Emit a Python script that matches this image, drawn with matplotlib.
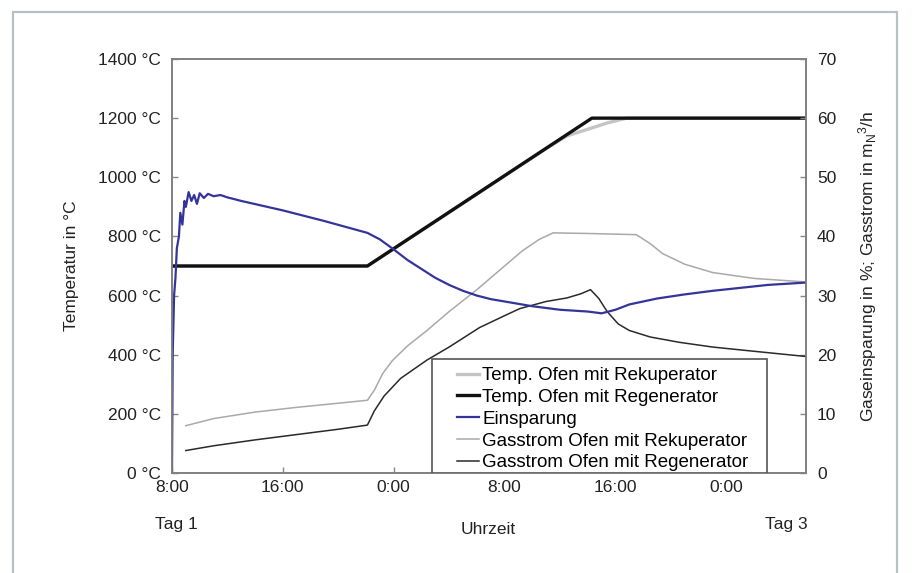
import matplotlib
matplotlib.use("Agg")
import matplotlib.pyplot as plt
from matplotlib.patches import Rectangle

plt.rcParams['font.family'] = ['Liberation Sans', 'DejaVu Sans']
plt.rcParams['mathtext.fontset'] = 'custom'
plt.rcParams['mathtext.rm'] = 'Liberation Sans'
plt.rcParams['mathtext.it'] = 'Liberation Sans'

# hours after 8:00 on day 1
tick_hours = [0, 8, 16, 24, 32, 40]
tick_labels = ['8:00', '16:00', '0:00', '8:00', '16:00', '0:00']
x_end = 45.75

# furnace temperatures (°C)
t_regen = [0, 14.1, 30.3, x_end]
temp_regen = [700, 700, 1200, 1200]

t_rekup = [0, 14.1, 27.0, 28.5, 30.3, 31.5, 32.8, x_end]
temp_rekup = [700, 700, 1097, 1140, 1167, 1185, 1200, 1200]

# savings (%)
t_spar = [0, 0.05, 0.15, 0.25, 0.35, 0.5, 0.6, 0.75, 0.9, 1.0, 1.2, 1.4, 1.6,
          1.8, 2.0, 2.3, 2.6, 3.0, 3.5, 4.0, 5, 8, 11, 14.1, 15, 16, 17, 18,
          19, 20, 21, 22, 23, 24, 25, 26, 28, 30, 31, 32, 33, 35, 37, 39, 41,
          43, x_end]
spar = [0, 20, 30, 33, 38, 40, 44, 42, 46, 45, 47.5, 46, 47, 45.5, 47.3, 46.5,
        47.2, 46.8, 47, 46.6, 46, 44.4, 42.6, 40.6, 39.5, 37.8, 36, 34.5, 33,
        31.8, 30.8, 30.0, 29.4, 29.0, 28.6, 28.2, 27.6, 27.3, 27.0, 27.6, 28.5,
        29.5, 30.2, 30.8, 31.3, 31.8, 32.2]

# gas flow (m3/h)
t_gas_rekup = [1.0, 3, 6, 9, 12, 14.1, 14.6, 15.2, 15.9, 17, 18.4, 20, 22,
               23.5, 25.3, 26.5, 27.5, 30, 33.5, 34.5, 35.4, 37, 39, 42, x_end]
gas_rekup = [8.0, 9.2, 10.3, 11.1, 11.8, 12.3, 14.0, 16.8, 19.0, 21.5, 24.1,
             27.3, 31.0, 34.0, 37.6, 39.5, 40.6, 40.5, 40.3, 38.8, 37.1, 35.3,
             33.9, 32.9, 32.3]

t_gas_regen = [1.0, 3, 6, 9, 12, 14.1, 14.6, 15.3, 16.5, 18.4, 20, 22.2, 24,
               25.1, 27, 28.5, 29.5, 30.2, 30.8, 31.4, 32.2, 33, 34.5, 36.6, 39,
               41.5, x_end]
gas_regen = [3.8, 4.6, 5.6, 6.5, 7.4, 8.1, 10.5, 13.0, 16.0, 19.1, 21.3, 24.6,
             26.6, 27.8, 29.0, 29.6, 30.3, 31.0, 29.5, 27.3, 25.2, 24.1, 23.0,
             22.1, 21.3, 20.7, 19.7]

W, H = 915, 573
fig = plt.figure(figsize=(W / 100, H / 100), dpi=100)
fig.patch.set_facecolor('white')

ax = fig.add_axes([172 / W, 1 - 473 / H, 634 / W, 414 / H])
ax2 = ax.twinx()

l1, = ax.plot(t_rekup, temp_rekup, color='#c4c4c4', lw=2.4,
              label='Temp. Ofen mit Rekuperator')
l2, = ax.plot(t_regen, temp_regen, color='#111111', lw=2.4,
              label='Temp. Ofen mit Regenerator')
l4, = ax2.plot(t_gas_rekup, gas_rekup, color='#a9a9a9', lw=1.1,
               label='Gasstrom Ofen mit Rekuperator')
l5, = ax2.plot(t_gas_regen, gas_regen, color='#2a2a2a', lw=1.1,
               label='Gasstrom Ofen mit Regenerator')
l3, = ax2.plot(t_spar, spar, color='#34349a', lw=1.6, label='Einsparung')

ax.set_xlim(0, x_end)
ax.set_ylim(0, 1400)
ax2.set_ylim(0, 70)
ax.set_xticks(tick_hours)
ax.set_xticklabels(tick_labels)
ax.set_yticks(range(0, 1401, 200))
ax.set_yticklabels([f'{v} °C' for v in range(0, 1401, 200)])
ax2.set_yticks(range(0, 71, 10))

fs = 12.5
for a in (ax, ax2):
    a.tick_params(direction='in', length=4, width=1, colors='#888888',
                  labelcolor='#222222', labelsize=fs, pad=8)
    for s in a.spines.values():
        s.set_color('#808080')
        s.set_linewidth(1.2)
ax.tick_params(axis='x', pad=5)

ax.set_ylabel('Temperatur in °C', fontsize=fs, color='#222222', labelpad=14)
ax2.set_ylabel('Gaseinsparung in %; Gasstrom in m$_\\mathrm{N}$$^3$/h',
               fontsize=fs, color='#222222', labelpad=14)

fig.text(155 / W, 1 - 525 / H, 'Tag 1', fontsize=fs, color='#222222',
         ha='left', va='center')
fig.text(488 / W, 1 - 530 / H, 'Uhrzeit', fontsize=fs, color='#222222',
         ha='center', va='center')
fig.text(808 / W, 1 - 525 / H, 'Tag 3', fontsize=fs, color='#222222',
         ha='right', va='center')

# legend box drawn separately so the entries can sit with a wider left margin
ax2.add_patch(Rectangle((260 / 634, 0), 335 / 634, 114 / 414,
                        transform=ax2.transAxes, facecolor='white',
                        edgecolor='#555555', lw=1.2, zorder=4.5))
leg = ax2.legend(handles=[l1, l2, l3, l4, l5], loc='lower left',
                 bbox_to_anchor=(285 / 634, 0.004), borderaxespad=0,
                 fontsize=13.5, frameon=False, handlelength=1.15,
                 handletextpad=0.2, borderpad=0, labelspacing=0.25)

# outer frame of the picture
fig.add_artist(Rectangle((13 / W, -0.05), (897 - 13) / W, 1.05 - 12 / H,
                         transform=fig.transFigure, fill=False,
                         edgecolor='#b9c0c3', lw=1.6))

fig.savefig('out.png', dpi=100)
